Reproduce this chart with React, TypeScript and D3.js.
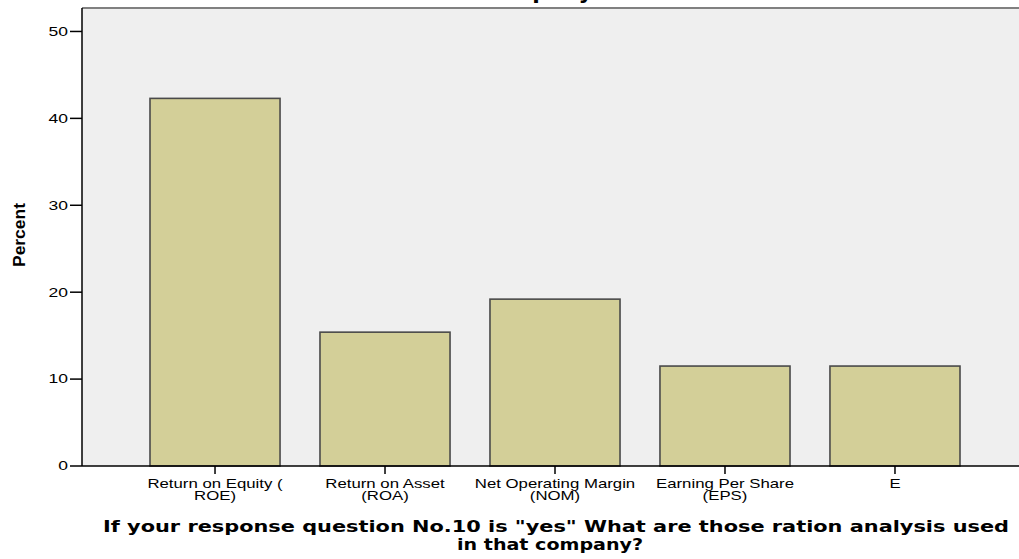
import React, { useEffect, useRef } from "react";
import * as d3 from "d3";

// chart values
const categories = ["ROE", "ROA", "NOM", "EPS", "E"];
const labelLines = [
  ["Return on Equity (", "ROE)"],
  ["Return on Asset", "(ROA)"],
  ["Net Operating Margin", "(NOM)"],
  ["Earning Per Share", "(EPS)"],
  ["E"],
];
const percents = [42.3, 15.4, 19.2, 11.5, 11.5];
const yTicks = [0, 10, 20, 30, 40, 50];
const xTitleLines = [
  'If your response question No.10 is "yes" What are those ration analysis used',
  "in that company?",
];
const topTitle = "in that company?";

export default function App() {
  const svgRef = useRef<SVGSVGElement>(null);
  const width = 1019;
  const height = 559;

  useEffect(() => {
    const svg = d3.select(svgRef.current);
    svg.selectAll("*").remove();

    // plot box (runs past the right edge like the original)
    const plot = { left: 82, right: 1028, top: 8, bottom: 466 };
    const stretch = 1.4; // the source image is widened horizontally

    const x = d3
      .scaleBand()
      .domain(categories)
      .range([plot.left, plot.right])
      .paddingInner(0.235)
      .paddingOuter(0.4);

    const y = d3
      .scaleLinear()
      .domain([0, 52.7])
      .range([plot.bottom, plot.top]);

    svg.append("rect").attr("width", width).attr("height", height).attr("fill", "#fff");

    svg
      .append("rect")
      .attr("x", plot.left)
      .attr("y", plot.top)
      .attr("width", plot.right - plot.left)
      .attr("height", plot.bottom - plot.top)
      .attr("fill", "#efefef");

    svg
      .append("line")
      .attr("x1", plot.left)
      .attr("x2", plot.right)
      .attr("y1", plot.top)
      .attr("y2", plot.top)
      .attr("stroke", "#808080")
      .attr("stroke-width", 2);

    // top title, cut off by the image edge
    svg
      .append("text")
      .attr("x", 391)
      .attr("y", -1.5)
      .attr("font-family", "DejaVu Sans")
      .attr("font-weight", "bold")
      .attr("font-size", 22)
      .attr("fill", "#000")
      .text(topTitle);

    // Bars
    svg
      .selectAll("rect.bar")
      .data(percents)
      .enter()
      .append("rect")
      .attr("class", "bar")
      .attr("x", (d, i) => x(categories[i]))
      .attr("y", (d) => y(d))
      .attr("width", x.bandwidth())
      .attr("height", (d) => y(0) - y(d))
      .attr("fill", "#d3cf98")
      .attr("stroke", "#4a4a4a")
      .attr("stroke-width", 1.6);

    // y axis
    svg
      .append("line")
      .attr("x1", plot.left)
      .attr("x2", plot.left)
      .attr("y1", plot.top)
      .attr("y2", plot.bottom)
      .attr("stroke", "#000")
      .attr("stroke-width", 1.5);

    const yTick = svg
      .selectAll("g.ytick")
      .data(yTicks)
      .enter()
      .append("g")
      .attr("class", "ytick")
      .attr("transform", (d) => `translate(${plot.left},${y(d)})`);

    yTick.append("line").attr("x1", -12).attr("x2", 0).attr("stroke", "#000").attr("stroke-width", 1.5);
    yTick
      .append("text")
      .attr("transform", `translate(-14,0) scale(${stretch},1)`)
      .attr("dy", "0.35em")
      .attr("text-anchor", "end")
      .attr("font-family", "Liberation Sans")
      .attr("font-size", 12.5)
      .attr("fill", "#000")
      .text((d) => d);

    // x axis
    svg
      .append("line")
      .attr("x1", plot.left)
      .attr("x2", plot.right)
      .attr("y1", plot.bottom)
      .attr("y2", plot.bottom)
      .attr("stroke", "#000")
      .attr("stroke-width", 1.5);

    const xTick = svg
      .selectAll("g.xtick")
      .data(categories)
      .enter()
      .append("g")
      .attr("class", "xtick")
      .attr("transform", (d) => `translate(${x(d) + x.bandwidth() / 2},${plot.bottom})`);

    xTick.append("line").attr("y1", 0).attr("y2", 8).attr("stroke", "#000").attr("stroke-width", 1.5);

    xTick
      .append("text")
      .attr("transform", `scale(${stretch},1)`)
      .attr("text-anchor", "middle")
      .attr("font-family", "Liberation Sans")
      .attr("font-size", 12)
      .attr("fill", "#000")
      .selectAll("tspan")
      .data((d, i) => labelLines[i])
      .enter()
      .append("tspan")
      .attr("x", 0)
      .attr("y", (d, i) => 22 + i * 12.5)
      .text((d) => d);

    // axis titles
    svg
      .append("text")
      .attr("transform", "translate(25,235) rotate(-90)")
      .attr("text-anchor", "middle")
      .attr("font-family", "Liberation Sans")
      .attr("font-weight", "bold")
      .attr("font-size", 16)
      .attr("textLength", 64)
      .attr("lengthAdjust", "spacingAndGlyphs")
      .attr("fill", "#000")
      .text("Percent");

    svg
      .selectAll("text.xtitle")
      .data(xTitleLines)
      .enter()
      .append("text")
      .attr("class", "xtitle")
      .attr("x", (d, i) => (i === 0 ? 103 : 457))
      .attr("y", (d, i) => 532 + i * 18)
      .attr("font-family", "DejaVu Sans")
      .attr("font-weight", "bold")
      .attr("font-size", 16.5)
      .attr("textLength", (d, i) => (i === 0 ? 906 : 186))
      .attr("lengthAdjust", "spacingAndGlyphs")
      .attr("fill", "#000")
      .text((d) => d);
  }, []);

  return (
    <svg
      ref={svgRef}
      width={width}
      height={height}
      style={{ position: "absolute", left: 0, top: 0 }}
    ></svg>
  );
}
